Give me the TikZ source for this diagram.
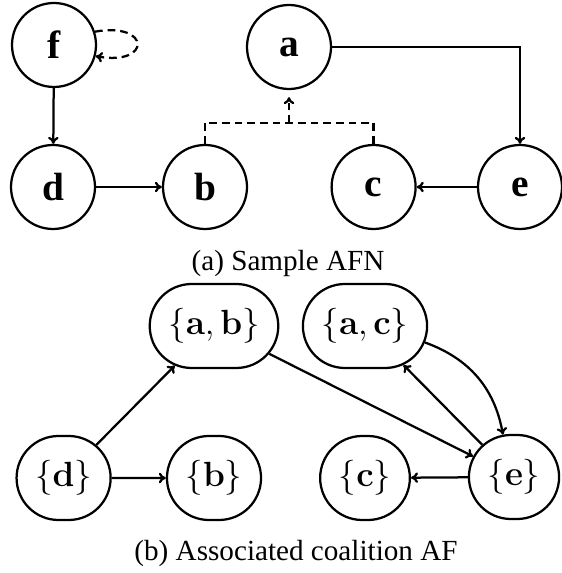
\documentclass[tikz,border=0pt]{standalone}
\usepackage[no-math]{fontspec}
\newfontfamily\timesfont{Liberation Serif}
\usepackage{tikz}
\usetikzlibrary{positioning,shapes.misc,arrows.meta}
\usepackage{amsmath}

\tikzset{
  arg/.style={draw, circle, minimum size=2.1cm, inner sep=0pt, font=\timesfont\bfseries\fontsize{28}{34}\selectfont},
  coal/.style={draw, rounded rectangle, minimum height=2.1cm, inner ysep=0pt, inner xsep=0.37cm, font=\Huge},
  support/.style={dash pattern=on 5.5pt off 3.5pt},
  capt/.style={font=\timesfont\huge}
}

\begin{document}
\begin{tikzpicture}[line width=1.6pt, >={To[length=5pt,width=7.5pt]}]
        \useasboundingbox (0,0) rectangle (14.025,14.325);
        % sample AFN
        \foreach \n/\x/\y in {f/1.35/13.2, a/7.225/13.15, d/1.325/9.65, b/5.125/9.65, c/9.34/9.65, e/13.0/9.65} {
            \node[arg] (\n) at (\x,\y) {\n};
        }
        \draw[->] (f) -- (d);
        \draw[->] (d) -- (b);
        \draw[->] (e) -- (c);
        \draw[->] (a) -| (e);
        \draw[support,->] (f.18) .. controls +(1.4,0.25) and +(1.4,-0.25) .. (f.-15);
        \coordinate (join) at (7.225,11.25);
        \draw[support] (b) |- (join) -| (c);
        \draw[support,->,shorten >=5pt] (join) -- (a);
        \node[capt] (capa) at (7.2,7.75) {(a) Sample AFN};
        % associated coalition AF
        \node[coal] (ab) at (5.35,6.175) {$\{\mathbf{a},\mathbf{b}\}$};
        \node[coal] (ac) at (9.125,6.175) {$\{\mathbf{a},\mathbf{c}\}$};
        \node[coal] (sd) at (1.59,2.375) {$\{\mathbf{d}\}$};
        \node[coal] (sb) at (5.35,2.375) {$\{\mathbf{b}\}$};
        \node[coal] (sc) at (9.125,2.375) {$\{\mathbf{c}\}$};
        \node[coal] (se) at (12.85,2.4) {$\{\mathbf{e}\}$};
        \draw[->] (sd) -- (ab);
        \draw[->] (sd) -- (sb);
        \draw[->] (ab) -- (se);
        \draw[->] (ac) to[bend left=30] (se);
        \draw[->] (se) -- (ac);
        \draw[->] (se) -- (sc);
        \node[capt] (capb) at (7.4,0.5) {(b) Associated coalition AF};
\end{tikzpicture}
\end{document}
